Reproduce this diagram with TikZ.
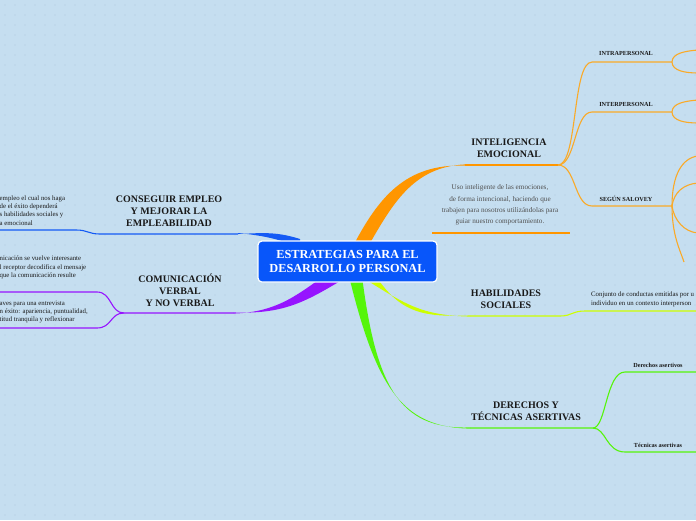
\documentclass[tikz,border=0pt]{standalone}
\usepackage{fontspec}
\setmainfont{Liberation Serif}
\definecolor{bg}{RGB}{197,222,240}
\definecolor{dotc}{RGB}{172,198,220}
\definecolor{rootblue}{RGB}{8,86,250}
\definecolor{cblue}{RGB}{20,90,245}
\definecolor{corange}{RGB}{255,150,0}
\definecolor{corange2}{RGB}{250,170,40}
\definecolor{cpurple}{RGB}{150,20,255}
\definecolor{cyell}{RGB}{205,255,0}
\definecolor{cgreen}{RGB}{85,245,10}
\definecolor{ctext}{RGB}{25,25,25}
\definecolor{cgray}{RGB}{80,80,80}
\tikzset{
  title/.style={font=\bfseries\fontsize{10}{12}\selectfont, align=center, text=ctext, inner sep=0pt},
  sublabel/.style={font=\bfseries\fontsize{6.2}{7}\selectfont, text=ctext, inner sep=0pt},
  note/.style={font=\fontsize{6.8}{8.3}\selectfont, align=left, text=ctext, inner sep=0pt},
  thin/.style={line width=1.1pt},
}
\begin{document}
\begin{tikzpicture}[x=1pt,y=-1pt]
\fill[bg] (0,0) rectangle (696,520);
\useasboundingbox (0,0) rectangle (696,520);
\foreach \i in {0,...,69} \foreach \j in {0,...,51} \fill[dotc] (\i*10+5,\j*10+5) circle (0.55);

% junction coordinates
\coordinate (bE) at (238,234);
\coordinate (bM) at (100,234);
\coordinate (bL) at (0,230);
\coordinate (pE) at (233,313);
\coordinate (pJ) at (124,313);
\coordinate (pU) at (0,292);
\coordinate (pD) at (0,328);
\coordinate (oE) at (465,165);
\coordinate (oJ) at (558,165);
\coordinate (o1) at (672,62);
\coordinate (o2) at (672,112);
\coordinate (o3) at (672,206);
\coordinate (yE) at (470,316);
\coordinate (yR) at (696,311);
\coordinate (gE) at (470,428);
\coordinate (gJ) at (593,428);
\coordinate (gU) at (696,372);
\coordinate (gD) at (696,452);
\coordinate (uL) at (432,233);
\coordinate (uR) at (570,233);

% tapered main branches
\fill[cblue] (300,239) .. controls (275,231) and (260,233.2) .. (bE) -- ([yshift=1pt]bE) .. controls (262,235.5) and (275,238) .. (300,247) -- cycle;
\fill[cpurple] (330,272) .. controls (300,292) and (280,312.3) .. ([yshift=-0.6pt]pE) -- ([yshift=0.6pt]pE) .. controls (283,314.5) and (305,302) .. (342,280) -- cycle;
\fill[corange] (352,248) .. controls (378,198) and (405,163.5) .. ([yshift=-0.6pt]oE) -- ([yshift=0.6pt]oE) .. controls (412,167) and (392,205) .. (366,250) -- cycle;
\fill[cyell] (360,276) .. controls (405,304) and (420,315.3) .. ([yshift=-0.6pt]yE) -- ([yshift=0.6pt]yE) .. controls (420,317.5) and (398,312) .. (372,270) -- cycle;
\fill[cgreen] (347,268) .. controls (375,385) and (400,427.4) .. ([yshift=-0.6pt]gE) -- ([yshift=0.6pt]gE) .. controls (398,430) and (375,385) .. (361,268) -- cycle;

% thin continuations
\draw[cblue, thin] (bE) -- (bM) .. controls (88,234) and (88,230) .. (76,230) -- (bL);
\draw[cpurple, thin] (pE) -- (pJ) .. controls (110,313) and (112,292) .. (97,292) -- (pU);
\draw[cpurple, thin] (pJ) .. controls (110,313) and (112,328) .. (97,328) -- (pD);
\draw[corange, thin] (oE) -- (oJ);
\draw[corange, line width=1.2pt] (uL) -- (uR);
\draw[corange2, thin] (oJ) .. controls (578,165) and (572,62) .. (592,62) -- (o1);
\draw[corange2, thin] (oJ) .. controls (576,165) and (574,112) .. (592,112) -- (o2);
\draw[corange2, thin] (oJ) .. controls (576,165) and (574,206) .. (592,206) -- (o3);
\draw[corange2, thin] (o1) .. controls (672,53) and (686,51) .. (698,50);
\draw[corange2, thin] (o1) .. controls (672,71) and (686,73) .. (698,73);
\draw[corange2, thin] (o2) .. controls (672,103) and (686,101) .. (698,100);
\draw[corange2, thin] (o2) .. controls (672,121) and (686,123) .. (698,123);
\draw[corange2, thin] (o3) .. controls (672,175) and (682,158) .. (698,156);
\draw[corange2, thin] (o3) .. controls (674,192) and (684,184) .. (698,183);
\draw[corange2, thin] (o3) .. controls (674,220) and (684,232) .. (698,233);
\draw[corange2, thin] (o3) .. controls (672,235) and (680,250) .. (684,262);
\draw[cyell, thin] (yE) -- (560,316) .. controls (572,316) and (572,311) .. (585,311) -- (yR);
\draw[cgreen, thin] (gE) -- (gJ) .. controls (606,428) and (606,372) .. (625,372) -- (gU);
\draw[cgreen, thin] (gJ) .. controls (606,428) and (606,452) .. (625,452) -- (gD);

% root
\node[draw=white, line width=1.2pt, fill=rootblue, rounded corners=4pt, minimum width=179pt, minimum height=41pt, text=white, font=\bfseries\fontsize{12.3}{14.5}\selectfont, align=center, inner sep=0pt] (root) at (347.5,261.5) {ESTRATEGIAS PARA EL\\DESARROLLO PERSONAL};

% titles
\node[title] (emp) at (169,211) {CONSEGUIR EMPLEO\\Y MEJORAR LA\\EMPLEABILIDAD};
\node[title] (com) at (180,290) {COMUNICACIÓN\\VERBAL\\Y NO VERBAL};
\node[title] (ie) at (509,148) {INTELIGENCIA\\EMOCIONAL};
\node[title] (hs) at (506,299) {HABILIDADES\\SOCIALES};
\node[title] (dt) at (526,411) {DERECHOS Y\\TÉCNICAS ASERTIVAS};

% sub labels
\node[sublabel] (intra) at (626,53.5) {INTRAPERSONAL};
\node[sublabel] (inter) at (626,104.5) {INTERPERSONAL};
\node[sublabel] (salo) at (626,199) {SEGÚN SALOVEY};
\node[sublabel] (dera) at (658,365) {Derechos asertivos};
\node[sublabel] (teca) at (658,445) {Técnicas asertivas};

% notes
\node[font=\fontsize{7.2}{11.3}\selectfont, align=center, text=cgray, inner sep=0pt] (desc) at (500,205) {Uso inteligente de las emociones,\\de forma intencional, haciendo que\\trabajen para nosotros utilizándolas para\\guiar nuestro comportamiento.};
\node[note, anchor=west] (n1) at (-0.5,210.5) {empleo el cual nos haga\\de el éxito dependerá\\s habilidades sociales y\\a emocional};
\node[note, anchor=west] (n2) at (-0.5,267.5) {nicación se vuelve interesante\\l receptor decodifica el mensaje\\ que la comunicación resulte};
\node[note, anchor=west] (n3) at (-0.5,312) {aves para una entrevista\\n éxito: apariencia, puntualidad,\\titud tranquila y reflexionar};
\node[note, anchor=west] (n4) at (591,299.5) {Conjunto de conductas emitidas por u\\individuo en un contexto interperson};
\end{tikzpicture}
\end{document}
